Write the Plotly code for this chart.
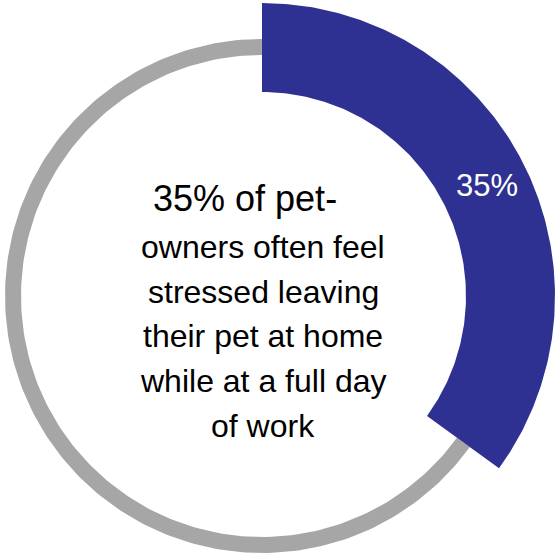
import numpy as np
import plotly.graph_objects as go

# Share of pet-owners who feel stressed leaving their pet home during a work day
segment_labels = ["Often stressed", "Other"]
segment_values = [35, 65]
segment_colors = ["#2E3192", "#A6A6A6"]

# Ring geometry (radii in axis units) for each segment: (inner, outer)
segment_radii = [(204, 293), (241, 257)]

center_lines = [
    "35% of pet-",
    "owners often feel",
    "stressed leaving",
    "their pet at home",
    "while at a full day",
    "of work",
]

FONT = "Arial, Liberation Sans, sans-serif"


def ring_sector(start_deg, end_deg, r_in, r_out, n=200):
    """Closed outline of an annular sector; angles measured clockwise from 12 o'clock."""
    t = np.radians(np.linspace(start_deg, end_deg, n))
    xo, yo = r_out * np.sin(t), r_out * np.cos(t)
    xi, yi = r_in * np.sin(t[::-1]), r_in * np.cos(t[::-1])
    x = np.concatenate([xo, xi, xo[:1]])
    y = np.concatenate([yo, yi, yo[:1]])
    return x, y


fig = go.Figure()

total = sum(segment_values)
bounds = np.concatenate([[0], np.cumsum(segment_values)]) / total * 360.0

# Draw the grey remainder first so the highlighted segment sits on top
order = [1, 0]
for i in order:
    r_in, r_out = segment_radii[i]
    x, y = ring_sector(bounds[i], bounds[i + 1], r_in, r_out)
    fig.add_trace(
        go.Scatter(
            x=x,
            y=y,
            mode="lines",
            fill="toself",
            fillcolor=segment_colors[i],
            line=dict(width=0, color=segment_colors[i]),
            hoverinfo="skip",
            name=segment_labels[i],
        )
    )

# Percentage label inside the highlighted segment
mid = np.radians((bounds[0] + bounds[1]) / 2)
r_mid = sum(segment_radii[0]) / 2
fig.add_annotation(
    x=r_mid * np.sin(mid),
    y=r_mid * np.cos(mid),
    text=f"{segment_values[0]}%",
    showarrow=False,
    font=dict(family=FONT, size=31, color="white"),
    xanchor="center",
    yanchor="middle",
    xshift=4,
    yshift=-2,
)

# Centre caption, one annotation per line; the opening line is set a bit larger
line_gap = 44.8
first_bottom = 74
for k, line in enumerate(center_lines):
    fig.add_annotation(
        x=0,
        y=first_bottom - k * line_gap,
        text=line,
        showarrow=False,
        font=dict(family=FONT, size=36 if k == 0 else 32, color="black"),
        xanchor="center",
        yanchor="bottom",
        xshift=-17 if k == 0 else 1,
        yshift=1 if k == 0 else 0,
    )

fig.update_layout(
    width=559,
    height=555,
    margin=dict(l=0, r=0, t=0, b=0),
    paper_bgcolor="white",
    plot_bgcolor="white",
    showlegend=False,
    xaxis=dict(range=[-262, 297], visible=False, fixedrange=True),
    yaxis=dict(range=[-259, 296], visible=False, fixedrange=True),
)

fig.write_html("out.html")
